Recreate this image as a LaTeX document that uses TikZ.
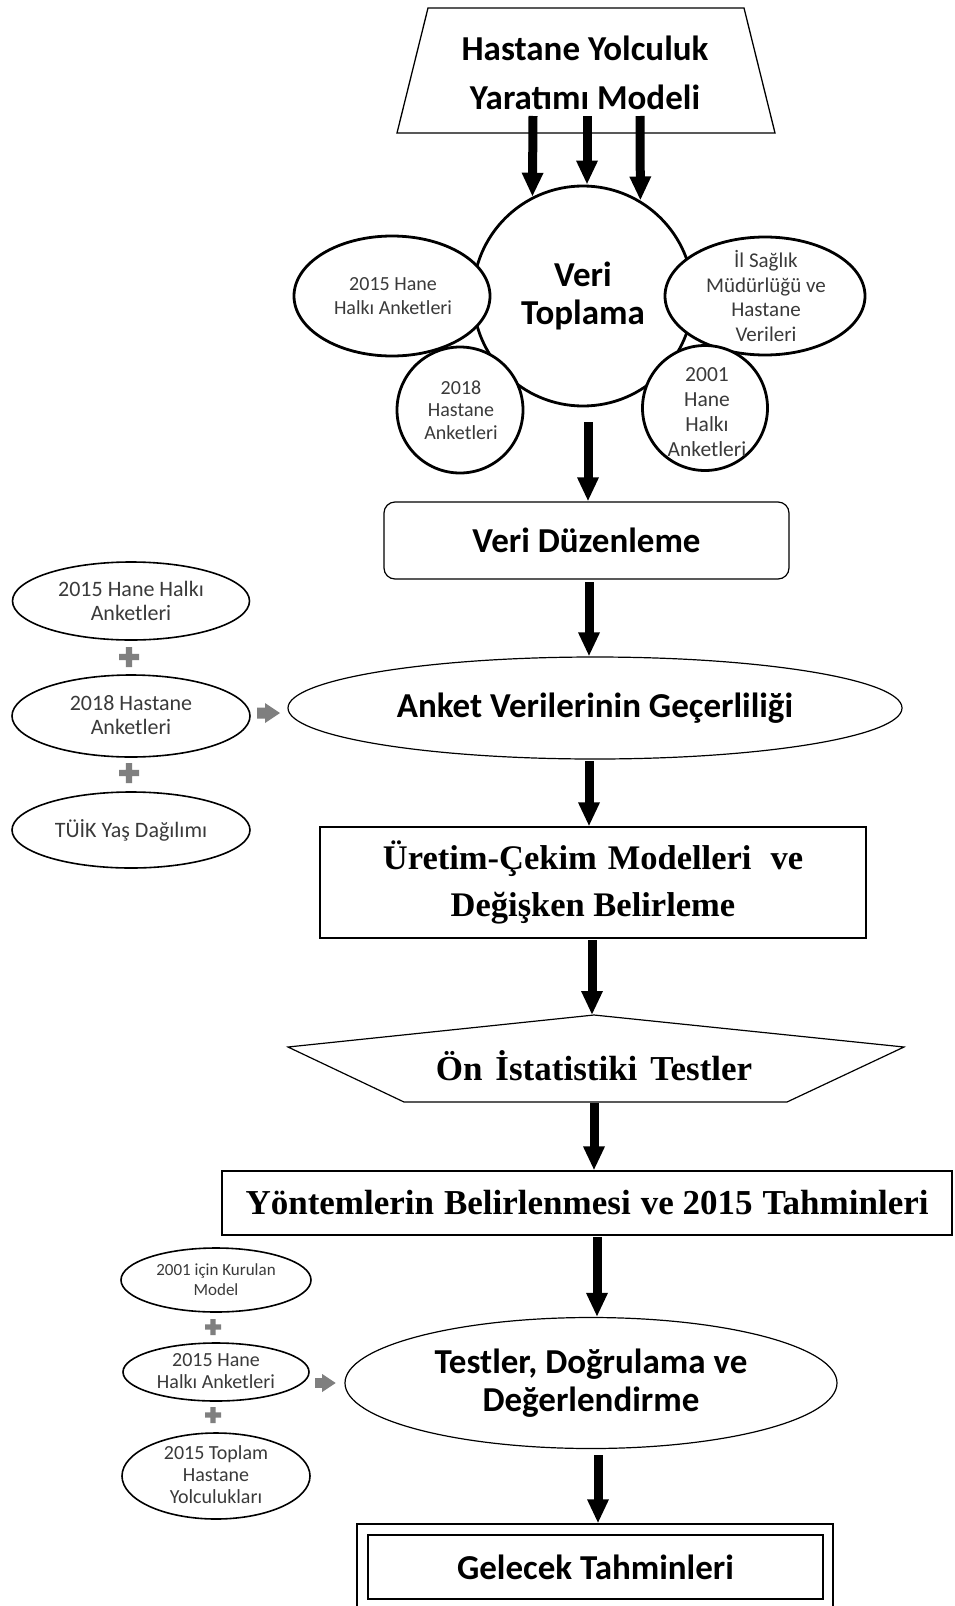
\documentclass[tikz,border=0pt]{standalone}
\usepackage{fontspec}
\setmainfont{Carlito}
\newfontfamily\tnr{Liberation Serif}
\usetikzlibrary{arrows.meta,shapes.geometric}
\definecolor{plusgray}{HTML}{7F7F7F}
\definecolor{lblgray}{HTML}{3A3A3A}
\tikzset{
  bigarrow/.style={line width=9pt,-{Triangle[width=20pt,length=24pt]}},
  flower/.style={draw,line width=2.8pt,fill=white,inner sep=0pt},
  thinbox/.style={draw,line width=1.2pt,fill=white,inner sep=0pt},
  sideell/.style={draw,ellipse,line width=1.6pt,fill=white,inner sep=0pt},
  mainlbl/.style={font=\bfseries\fontsize{35}{38}\selectfont,align=center,inner sep=0pt},
  serlbl/.style={font=\tnr\bfseries\fontsize{35}{47}\selectfont,align=center,inner sep=0pt},
  flbl/.style={text=lblgray,font=\fontsize{21}{24.5}\selectfont,align=center,inner sep=0pt},
  sidelbl/.style={text=lblgray,font=\fontsize{22}{23.5}\selectfont,align=center,inner sep=0pt},
  blbl/.style={text=lblgray,font=\fontsize{20}{22}\selectfont,align=center,inner sep=0pt},
  plussign/.pic={\fill[plusgray] (-10,-3.2) rectangle (10,3.2) (-3.2,-10) rectangle (3.2,10);},
  grayarrow/.pic={\fill[plusgray] (0,-5.5) -- (8,-5.5) -- (8,-10) -- (23,0) -- (8,10) -- (8,5.5) -- (0,5.5) -- cycle;},
}
\begin{document}
\begin{tikzpicture}[x=1pt,y=-1pt]
\useasboundingbox (0,0) rectangle (954,1606);
\clip (0,0) rectangle (954,1606);
\fill[white] (0,0) rectangle (954,1606);

% top trapezoid
\draw[line width=1.3pt,fill=white] (428,8) -- (744,8) -- (775,133) -- (397,133) -- cycle;
\node[mainlbl,font=\bfseries\fontsize{35}{49}\selectfont] (hy) at (585,73) {Hastane Yolculuk\\Yaratımı Modeli};

% flower
\node[flower,circle,minimum size=220pt] (vt) at (583,296) {};
\node[flower,ellipse,minimum width=196pt,minimum height=120pt] (h15) at (392,296) {};
\node[flower,circle,minimum size=126pt] (h18) at (460,410) {};
\node[flower,ellipse,minimum width=200pt,minimum height=118pt] (ils) at (765,296) {};
\node[flower,circle,minimum size=125pt] (h01) at (705,408) {};
\node[mainlbl] (vtt) at (583,296) {Veri\\Toplama};
\node[flbl,font=\fontsize{20}{24}\selectfont] (h15t) at (393,296) {2015 Hane\\Halkı Anketleri};
\node[flbl,font=\fontsize{20}{22.5}\selectfont] (h18t) at (461,410) {2018\\Hastane\\Anketleri};
\node[flbl] (ilst) at (766,296) {İl Sağlık\\Müdürlüğü ve\\Hastane\\Verileri};
\node[flbl,font=\fontsize{21.5}{25}\selectfont] (h01t) at (707,412) {2001\\Hane\\Halkı\\Anketleri};

\coordinate (t1) at (533,116);
\coordinate (t2) at (587,116);
\coordinate (t3) at (640,116);
\draw[bigarrow] (t1) -- (vt.117);
\draw[bigarrow] (t2) -- (t2 |- vt.north);
\draw[bigarrow] (t3) -- (vt.59);

% Veri Duzenleme
\node[thinbox,rounded corners=11pt,minimum width=405pt,minimum height=77pt,mainlbl] (vd) at (586.5,540.5) {Veri Düzenleme};
\coordinate (a1) at (588,422);
\draw[bigarrow] (a1) -- (a1 |- vd.north);

% Anket
\node[thinbox,ellipse,minimum width=614pt,minimum height=102pt,mainlbl] (an) at (595,708) {Anket Verilerinin Geçerliliği};
\coordinate (a2) at (589,582);
\draw[bigarrow] (a2) -- (a2 |- an.north);

% left group
\node[sideell,minimum width=237pt,minimum height=78pt] (l1) at (131,601) {};
\node[sidelbl] (l1t) at (131,601) {2015 Hane Halkı\\Anketleri};
\pic at (129,657) {plussign};
\node[sideell,minimum width=238pt,minimum height=82pt] (l2) at (131,716) {};
\node[sidelbl] (l2t) at (131,715) {2018 Hastane\\Anketleri};
\pic at (129,773) {plussign};
\node[sideell,minimum width=238pt,minimum height=76pt] (l3) at (131,830) {};
\node[sidelbl] (l3t) at (131,830) {TÜİK Yaş Dağılımı};
\pic at (257,713) {grayarrow};

% Uretim
\node[thinbox,minimum width=546pt,minimum height=111pt,serlbl,font=\tnr\bfseries\fontsize{34.5}{47}\selectfont] (ur) at (593,882.5) {Üretim-Çekim\hspace{11pt}Modelleri\hspace{19pt}ve\\Değişken Belirleme};
\coordinate (a3) at (589,761);
\draw[bigarrow] (a3) -- (a3 |- ur.north);

% pentagon
\draw[line width=1.2pt,fill=white] (594,1015) -- (904,1047) -- (787,1102) -- (404,1102) -- (288,1047) -- cycle;
\coordinate (pa) at (594,1015);
\node[serlbl] (on) at (594,1066) {Ön\hspace{13pt}İstatistiki\hspace{13pt}Testler};
\coordinate (a4) at (592,940);
\draw[bigarrow] (a4) -- (a4 |- pa);

% Yontemlerin
\node[thinbox,minimum width=730pt,minimum height=64pt,serlbl] (yb) at (587,1203) {Yöntemlerin\hspace{10pt}Belirlenmesi\hspace{10pt}ve 2015\hspace{10pt}Tahminleri};
\coordinate (a5) at (594,1103);
\draw[bigarrow] (a5) -- (a5 |- yb.north);

% Testler
\node[thinbox,ellipse,minimum width=492pt,minimum height=131pt,mainlbl] (te) at (591,1383) {Testler, Doğrulama ve\\Değerlendirme};
\coordinate (a6) at (597,1237);
\draw[bigarrow] (a6) -- (a6 |- te.north);

% bottom-left group
\node[sideell,minimum width=190pt,minimum height=64pt] (b1) at (216,1280) {};
\node[blbl,font=\fontsize{17}{20}\selectfont] (b1t) at (216,1280) {2001 için Kurulan\\Model};
\pic[scale=0.8] at (213,1327) {plussign};
\node[sideell,minimum width=186pt,minimum height=58pt] (b2) at (216,1372) {};
\node[blbl] (b2t) at (216,1371) {2015 Hane\\Halkı Anketleri};
\pic[scale=0.8] at (213,1415) {plussign};
\node[sideell,minimum width=188pt,minimum height=86pt] (b3) at (216,1476) {};
\node[blbl] (b3t) at (216,1475) {2015 Toplam\\Hastane\\Yolculukları};
\pic[scale=0.9] at (315,1383) {grayarrow};

% Gelecek
\node[draw,line width=1.3pt,minimum width=476pt,minimum height=100pt,inner sep=0pt] (go) at (595,1574) {};
\node[thinbox,minimum width=455pt,minimum height=64pt,mainlbl] (gi) at (595.5,1567) {Gelecek Tahminleri};
\coordinate (a7) at (598,1455);
\draw[bigarrow] (a7) -- (a7 |- go.north);
\end{tikzpicture}
\end{document}
